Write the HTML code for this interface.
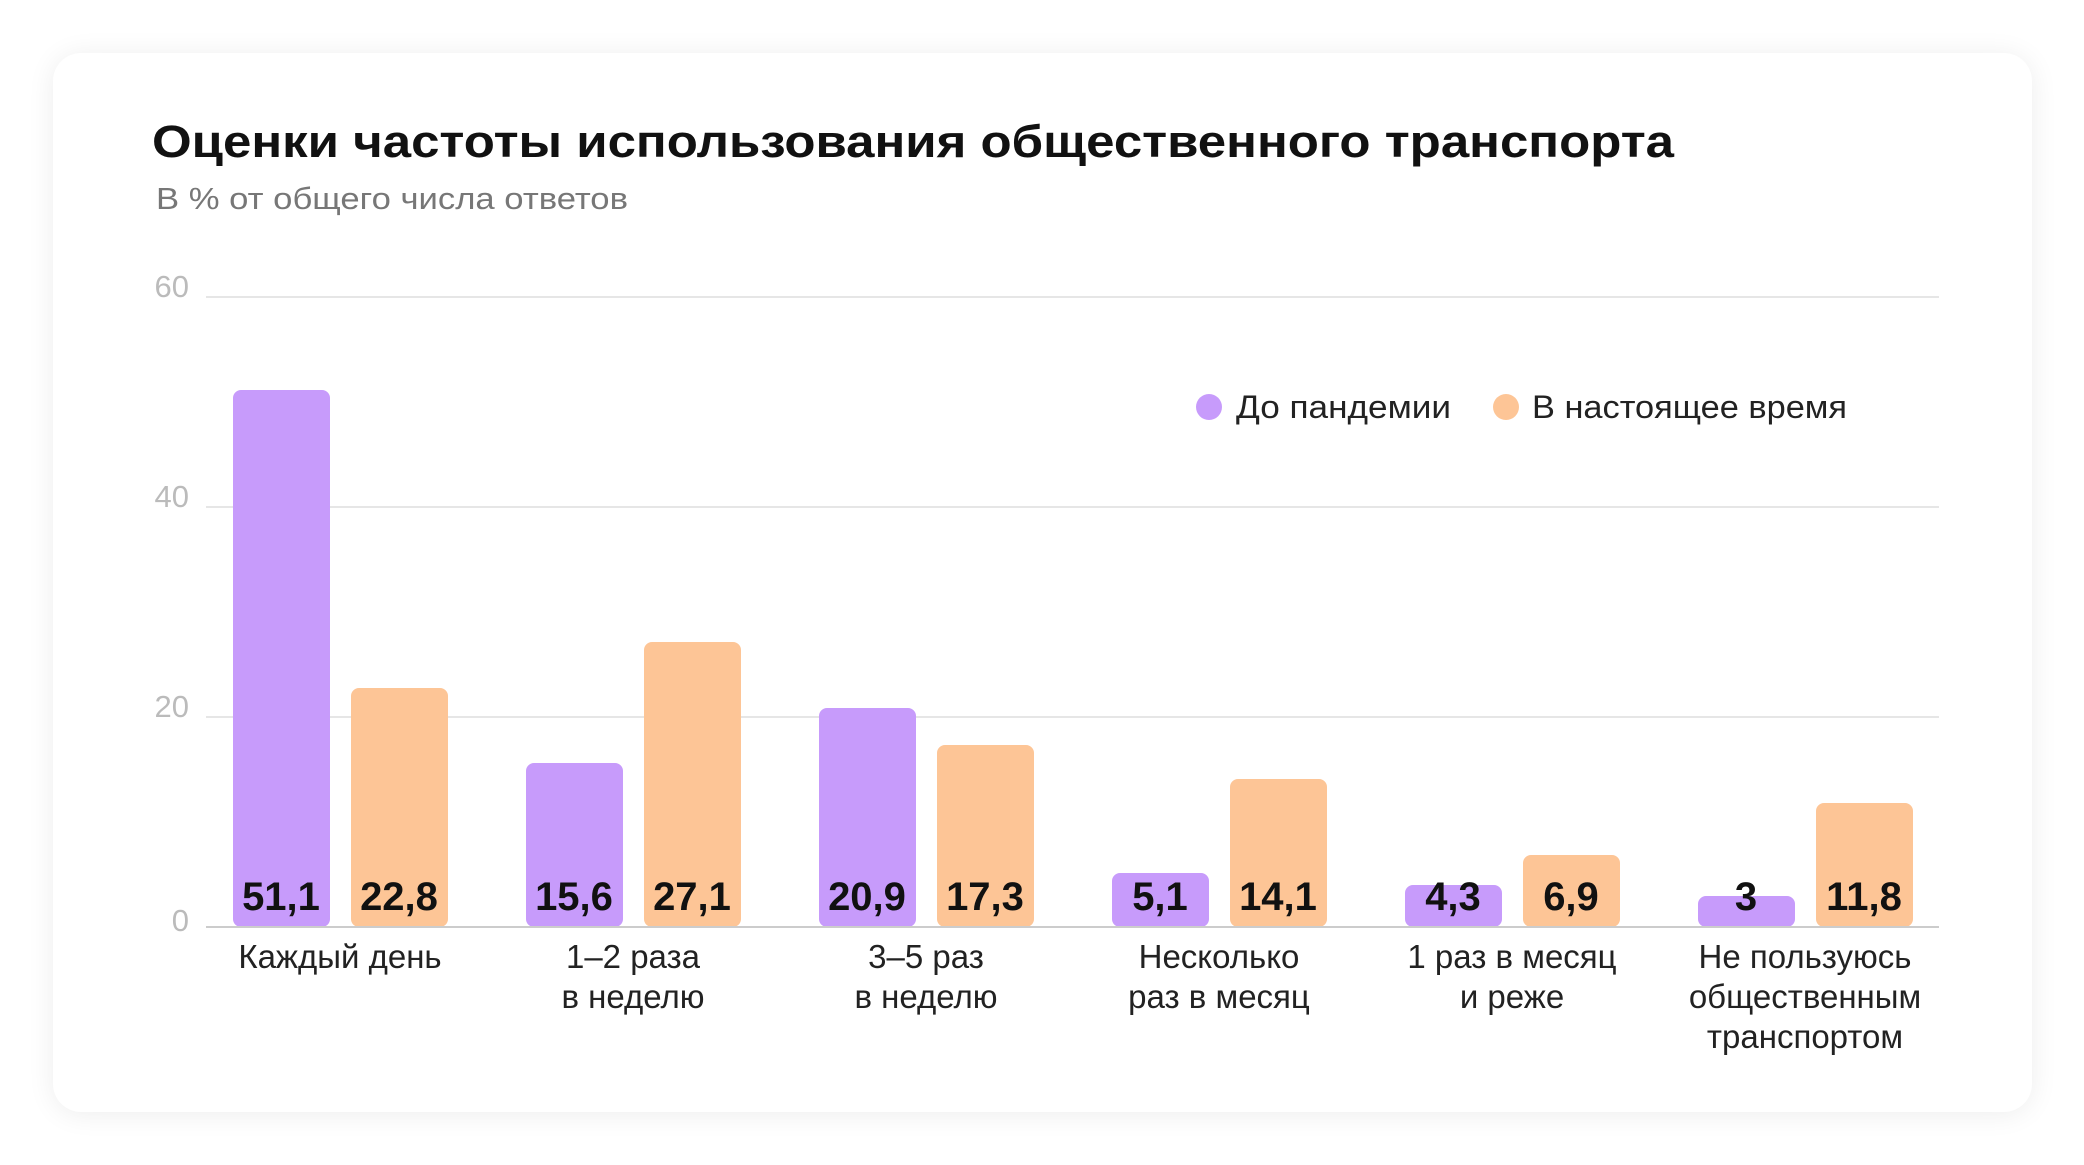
<!DOCTYPE html>
<html><head><meta charset="utf-8"><style>
html,body{margin:0;padding:0;background:#fff;}
svg{display:block;}
text{font-family:"Liberation Sans","DejaVu Sans",sans-serif;}
</style></head><body>
<svg width="2084" height="1165" viewBox="0 0 2084 1165" xmlns="http://www.w3.org/2000/svg">
<defs>
<filter id="sh" x="-5%" y="-5%" width="110%" height="110%"><feGaussianBlur stdDeviation="14"/></filter>
</defs>
<rect x="53" y="55" width="1979" height="1059" rx="28" fill="#000" opacity="0.07" filter="url(#sh)"/>
<rect x="53" y="53" width="1979" height="1059" rx="28" fill="#fff"/>
<text x="152" y="157" font-size="45" font-weight="bold" fill="#111" textLength="1522" lengthAdjust="spacingAndGlyphs">Оценки частоты использования общественного транспорта</text>
<text x="156" y="209" font-size="31" fill="#777" textLength="472" lengthAdjust="spacingAndGlyphs">В % от общего числа ответов</text>
<g stroke="#ddd" stroke-width="1.5">
<line x1="206" y1="297" x2="1939" y2="297"/>
<line x1="206" y1="507" x2="1939" y2="507"/>
<line x1="206" y1="717" x2="1939" y2="717"/>
</g>
<g font-size="31" fill="#bbb" text-anchor="end">
<text x="189" y="297">60</text>
<text x="189" y="507">40</text>
<text x="189" y="717">20</text>
<text x="189" y="931">0</text>
</g>
<g>
<rect x="233" y="390" width="97" height="537" rx="8" fill="#c79bfb"/>
<rect x="351" y="688" width="97" height="239" rx="8" fill="#fdc596"/>
<rect x="526" y="763" width="97" height="164" rx="8" fill="#c79bfb"/>
<rect x="644" y="642" width="97" height="285" rx="8" fill="#fdc596"/>
<rect x="819" y="708" width="97" height="219" rx="8" fill="#c79bfb"/>
<rect x="937" y="745" width="97" height="182" rx="8" fill="#fdc596"/>
<rect x="1112" y="873" width="97" height="54" rx="8" fill="#c79bfb"/>
<rect x="1230" y="779" width="97" height="148" rx="8" fill="#fdc596"/>
<rect x="1405" y="885" width="97" height="42" rx="8" fill="#c79bfb"/>
<rect x="1523" y="855" width="97" height="72" rx="8" fill="#fdc596"/>
<rect x="1698" y="896" width="97" height="31" rx="8" fill="#c79bfb"/>
<rect x="1816" y="803" width="97" height="124" rx="8" fill="#fdc596"/>
</g>
<line x1="206" y1="927" x2="1939" y2="927" stroke="#ccc" stroke-width="2"/>
<g font-size="40" font-weight="bold" fill="#111" text-anchor="middle">
<text x="281" y="910">51,1</text><text x="399" y="910">22,8</text>
<text x="574" y="910">15,6</text><text x="692" y="910">27,1</text>
<text x="867" y="910">20,9</text><text x="985" y="910">17,3</text>
<text x="1160" y="910">5,1</text><text x="1278" y="910">14,1</text>
<text x="1453" y="910">4,3</text><text x="1571" y="910">6,9</text>
<text x="1746" y="910">3</text><text x="1864" y="910">11,8</text>
</g>
<g font-size="33" fill="#222" text-anchor="middle">
<text x="340" y="968">Каждый день</text>
<text x="633" y="968">1–2 раза</text><text x="633" y="1008">в неделю</text>
<text x="926" y="968">3–5 раз</text><text x="926" y="1008">в неделю</text>
<text x="1219" y="968">Несколько</text><text x="1219" y="1008">раз в месяц</text>
<text x="1512" y="968">1 раз в месяц</text><text x="1512" y="1008">и реже</text>
<text x="1805" y="968">Не пользуюсь</text><text x="1805" y="1008">общественным</text><text x="1805" y="1048">транспортом</text>
</g>
<circle cx="1209" cy="407" r="13" fill="#c79bfb"/>
<text x="1236" y="418" font-size="32" fill="#222" textLength="215" lengthAdjust="spacingAndGlyphs">До пандемии</text>
<circle cx="1506" cy="407" r="13" fill="#fdc596"/>
<text x="1532" y="418" font-size="32" fill="#222" textLength="315" lengthAdjust="spacingAndGlyphs">В настоящее время</text>
</svg>
</body></html>
